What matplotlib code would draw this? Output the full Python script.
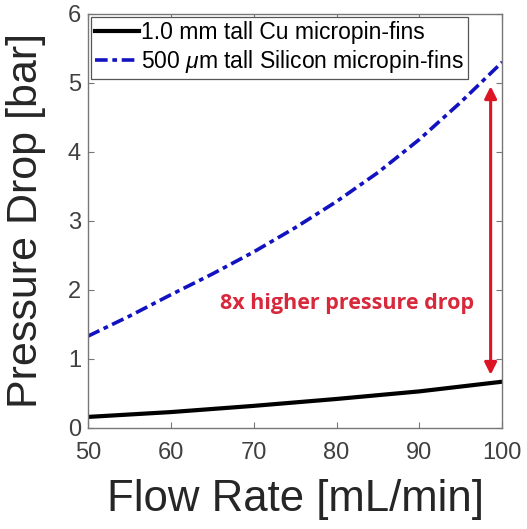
import numpy as np
import matplotlib
matplotlib.use('Agg')
import matplotlib.pyplot as plt

# data
flow = [50, 55, 60, 65, 70, 75, 80, 85, 90, 95, 100]
dp_si = [1.33, 1.62, 1.93, 2.23, 2.55, 2.90, 3.28, 3.70, 4.18, 4.72, 5.30]
flow_cu = [50, 60, 70, 80, 90, 100]
dp_cu = [0.16, 0.23, 0.32, 0.42, 0.53, 0.67]

arrow_x = 98.6
arrow_y = (0.77, 4.95)

plt.rcParams['font.family'] = ['Liberation Sans', 'DejaVu Sans']
plt.rcParams['mathtext.fontset'] = 'custom'
plt.rcParams['mathtext.it'] = 'Liberation Sans:italic'

fig = plt.figure(figsize=(5.27, 5.29), dpi=100)
ax = fig.add_axes([0.167, 0.191, 0.786, 0.783])

ax.plot(flow_cu, dp_cu, color='black', lw=3.0, label='1.0 mm tall Cu micropin-fins')
ax.plot(flow, dp_si, color='#1212c0', lw=2.6, linestyle=(0, (3.5, 1.3, 1.3, 1.3)),
        label=r'500 $\mu$m tall Silicon micropin-fins')

ax.annotate('', xy=(arrow_x, arrow_y[0]), xytext=(arrow_x, arrow_y[1]),
            arrowprops=dict(arrowstyle='<|-|>', color='#dc1424', lw=2.2,
                            mutation_scale=18, shrinkA=0, shrinkB=0))
ax.text(81.3, 1.81, '8x higher pressure drop', color='#d8283c', fontsize=15.5,
        fontweight='bold', family=['Open Sans', 'DejaVu Sans'],
        ha='center', va='center')

ax.set_xlim(50, 100)
ax.set_ylim(0, 6)
ax.set_xticks([50, 60, 70, 80, 90, 100])
ax.set_yticks([0, 1, 2, 3, 4, 5, 6])
ax.tick_params(direction='in', top=True, right=True, length=4, width=0.8,
               colors='#777777', labelcolor='#404040', labelsize=17)
ax.tick_params(axis='x', pad=10)
ax.tick_params(axis='y', pad=5)
for s in ax.spines.values():
    s.set_color('#777777')
    s.set_linewidth(1.0)

ax.set_xlabel('Flow Rate [mL/min]', fontsize=31.5, color='#262626', labelpad=11)
ax.set_ylabel('Pressure Drop [bar]', fontsize=31, color='#262626', labelpad=16)

leg = ax.legend(loc='upper left', fontsize=16.5, handlelength=1.9, handletextpad=0.1,
                borderpad=0.2, labelspacing=0.15, borderaxespad=0.12,
                fancybox=False, framealpha=1)
leg.get_frame().set_edgecolor('#555555')
leg.get_frame().set_linewidth(0.9)

plt.savefig('out.png', dpi=100)
